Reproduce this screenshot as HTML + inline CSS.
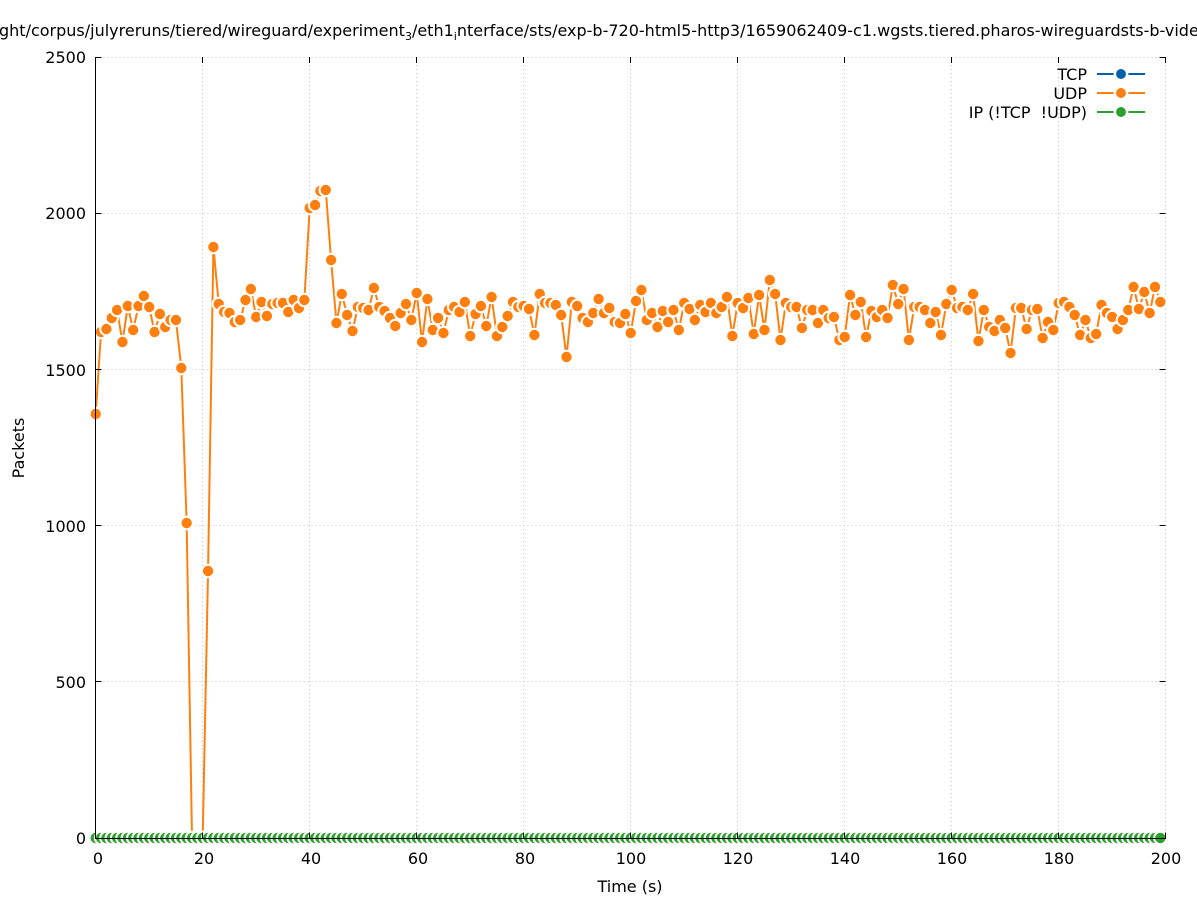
<!DOCTYPE html>
<html><head><meta charset="utf-8"><style>
html,body{margin:0;padding:0;background:#fff;}
svg{display:block;}
text{font-family:"DejaVu Sans","Liberation Sans",sans-serif;fill:#000;}
</style></head><body>
<svg width="1197" height="900" viewBox="0 0 1197 900" xmlns="http://www.w3.org/2000/svg">
<defs>
<circle id="o" cx="0" cy="0" r="6.2" fill="#ff7f0e" stroke="#fff" stroke-width="2"/>
<circle id="g" cx="0" cy="0" r="6.2" fill="#2ca02c" stroke="#fff" stroke-width="2"/>
</defs>
<rect width="1197" height="900" fill="#fff"/>
<!-- title -->
<text x="-1" y="36" font-size="16">ght/corpus/julyreruns/tiered/wireguard/experiment<tspan font-size="11" dy="4">3</tspan><tspan dy="-4">/eth1</tspan><tspan font-size="11" dy="4">i</tspan><tspan dy="-4">nterface/sts/exp-b-720-html5-http3/1659062409-c1.wgsts.tiered.pharos-wireguardsts-b-vide</tspan></text>
<!-- grid -->
<g stroke="#c8c8c8" stroke-width="1" stroke-dasharray="1,3" fill="none">
<path d="M95.5 681.5H1165.5M95.5 525.5H1165.5M95.5 369.5H1165.5M95.5 213.5H1165.5M95.5 57.5H1165.5"/>
<path d="M202.5 57V838M309.5 57V838M416.5 57V838M523.5 57V838M630.5 57V838M737.5 57V838M844.5 57V838M951.5 57V838M1058.5 57V838M1165.5 57V838"/>
</g>
<!-- UDP line -->
<polyline fill="none" stroke="#ff7f0e" stroke-width="2" stroke-linejoin="round" points="95.70,414 101.05,332 106.40,329 111.75,318 117.10,310 122.45,342 127.80,306 133.15,330 138.50,306 143.85,296 149.20,307 154.55,332 159.90,314 165.25,327 170.60,320 175.95,320 181.30,368 186.65,523 192.00,838 197.35,838 202.70,838 208.05,571 213.40,247 218.75,304 224.10,312 229.45,313 234.80,322 240.15,320 245.50,300 250.85,289 256.20,317 261.55,302 266.90,316 272.25,304 277.60,303 282.95,303 288.30,312 293.65,300 299.00,308 304.35,300 309.70,208 315.05,205 320.40,191 325.75,190 331.10,260 336.45,323 341.80,294 347.15,315 352.50,331 357.85,307 363.20,308 368.55,310 373.90,288 379.25,307 384.60,311 389.95,318 395.30,326 400.65,313 406.00,304 411.35,320 416.70,293 422.05,342 427.40,299 432.75,330 438.10,318 443.45,333 448.80,310 454.15,307 459.50,312 464.85,302 470.20,336 475.55,314 480.90,306 486.25,326 491.60,297 496.95,336 502.30,327 507.65,316 513.00,302 518.35,307 523.70,306 529.05,309 534.40,335 539.75,294 545.10,303 550.45,303 555.80,305 561.15,315 566.50,357 571.85,302 577.20,306 582.55,318 587.90,322 593.25,313 598.60,299 603.95,313 609.30,308 614.65,322 620.00,323 625.35,314 630.70,333 636.05,301 641.40,290 646.75,320 652.10,313 657.45,327 662.80,311 668.15,322 673.50,310 678.85,330 684.20,303 689.55,309 694.90,320 700.25,305 705.60,312 710.95,303 716.30,313 721.65,307 727.00,297 732.35,336 737.70,303 743.05,308 748.40,298 753.75,334 759.10,295 764.45,330 769.80,280 775.15,294 780.50,340 785.85,303 791.20,307 796.55,307 801.90,328 807.25,310 812.60,310 817.95,323 823.30,310 828.65,318 834.00,317 839.35,340 844.70,337 850.05,295 855.40,315 860.75,302 866.10,337 871.45,311 876.80,317 882.15,310 887.50,318 892.85,285 898.20,304 903.55,289 908.90,340 914.25,307 919.60,307 924.95,310 930.30,323 935.65,312 941.00,335 946.35,304 951.70,290 957.05,308 962.40,307 967.75,310 973.10,294 978.45,341 983.80,310 989.15,327 994.50,331 999.85,320 1005.20,328 1010.55,353 1015.90,308 1021.25,308 1026.60,329 1031.95,310 1037.30,309 1042.65,338 1048.00,322 1053.35,330 1058.70,303 1064.05,302 1069.40,307 1074.75,315 1080.10,335 1085.45,320 1090.80,338 1096.15,334 1101.50,305 1106.85,313 1112.20,317 1117.55,329 1122.90,320 1128.25,310 1133.60,287 1138.95,309 1144.30,292 1149.65,313 1155.00,287 1160.35,302"/>
<!-- UDP markers -->
<g>
<use href="#o" x="95.70" y="414"/><use href="#o" x="101.05" y="332"/><use href="#o" x="106.40" y="329"/><use href="#o" x="111.75" y="318"/><use href="#o" x="117.10" y="310"/><use href="#o" x="122.45" y="342"/><use href="#o" x="127.80" y="306"/><use href="#o" x="133.15" y="330"/><use href="#o" x="138.50" y="306"/><use href="#o" x="143.85" y="296"/>
<use href="#o" x="149.20" y="307"/><use href="#o" x="154.55" y="332"/><use href="#o" x="159.90" y="314"/><use href="#o" x="165.25" y="327"/><use href="#o" x="170.60" y="320"/><use href="#o" x="175.95" y="320"/><use href="#o" x="181.30" y="368"/><use href="#o" x="186.65" y="523"/><use href="#o" x="192.00" y="838"/><use href="#o" x="197.35" y="838"/>
<use href="#o" x="202.70" y="838"/><use href="#o" x="208.05" y="571"/><use href="#o" x="213.40" y="247"/><use href="#o" x="218.75" y="304"/><use href="#o" x="224.10" y="312"/><use href="#o" x="229.45" y="313"/><use href="#o" x="234.80" y="322"/><use href="#o" x="240.15" y="320"/><use href="#o" x="245.50" y="300"/><use href="#o" x="250.85" y="289"/>
<use href="#o" x="256.20" y="317"/><use href="#o" x="261.55" y="302"/><use href="#o" x="266.90" y="316"/><use href="#o" x="272.25" y="304"/><use href="#o" x="277.60" y="303"/><use href="#o" x="282.95" y="303"/><use href="#o" x="288.30" y="312"/><use href="#o" x="293.65" y="300"/><use href="#o" x="299.00" y="308"/><use href="#o" x="304.35" y="300"/>
<use href="#o" x="309.70" y="208"/><use href="#o" x="315.05" y="205"/><use href="#o" x="320.40" y="191"/><use href="#o" x="325.75" y="190"/><use href="#o" x="331.10" y="260"/><use href="#o" x="336.45" y="323"/><use href="#o" x="341.80" y="294"/><use href="#o" x="347.15" y="315"/><use href="#o" x="352.50" y="331"/><use href="#o" x="357.85" y="307"/>
<use href="#o" x="363.20" y="308"/><use href="#o" x="368.55" y="310"/><use href="#o" x="373.90" y="288"/><use href="#o" x="379.25" y="307"/><use href="#o" x="384.60" y="311"/><use href="#o" x="389.95" y="318"/><use href="#o" x="395.30" y="326"/><use href="#o" x="400.65" y="313"/><use href="#o" x="406.00" y="304"/><use href="#o" x="411.35" y="320"/>
<use href="#o" x="416.70" y="293"/><use href="#o" x="422.05" y="342"/><use href="#o" x="427.40" y="299"/><use href="#o" x="432.75" y="330"/><use href="#o" x="438.10" y="318"/><use href="#o" x="443.45" y="333"/><use href="#o" x="448.80" y="310"/><use href="#o" x="454.15" y="307"/><use href="#o" x="459.50" y="312"/><use href="#o" x="464.85" y="302"/>
<use href="#o" x="470.20" y="336"/><use href="#o" x="475.55" y="314"/><use href="#o" x="480.90" y="306"/><use href="#o" x="486.25" y="326"/><use href="#o" x="491.60" y="297"/><use href="#o" x="496.95" y="336"/><use href="#o" x="502.30" y="327"/><use href="#o" x="507.65" y="316"/><use href="#o" x="513.00" y="302"/><use href="#o" x="518.35" y="307"/>
<use href="#o" x="523.70" y="306"/><use href="#o" x="529.05" y="309"/><use href="#o" x="534.40" y="335"/><use href="#o" x="539.75" y="294"/><use href="#o" x="545.10" y="303"/><use href="#o" x="550.45" y="303"/><use href="#o" x="555.80" y="305"/><use href="#o" x="561.15" y="315"/><use href="#o" x="566.50" y="357"/><use href="#o" x="571.85" y="302"/>
<use href="#o" x="577.20" y="306"/><use href="#o" x="582.55" y="318"/><use href="#o" x="587.90" y="322"/><use href="#o" x="593.25" y="313"/><use href="#o" x="598.60" y="299"/><use href="#o" x="603.95" y="313"/><use href="#o" x="609.30" y="308"/><use href="#o" x="614.65" y="322"/><use href="#o" x="620.00" y="323"/><use href="#o" x="625.35" y="314"/>
<use href="#o" x="630.70" y="333"/><use href="#o" x="636.05" y="301"/><use href="#o" x="641.40" y="290"/><use href="#o" x="646.75" y="320"/><use href="#o" x="652.10" y="313"/><use href="#o" x="657.45" y="327"/><use href="#o" x="662.80" y="311"/><use href="#o" x="668.15" y="322"/><use href="#o" x="673.50" y="310"/><use href="#o" x="678.85" y="330"/>
<use href="#o" x="684.20" y="303"/><use href="#o" x="689.55" y="309"/><use href="#o" x="694.90" y="320"/><use href="#o" x="700.25" y="305"/><use href="#o" x="705.60" y="312"/><use href="#o" x="710.95" y="303"/><use href="#o" x="716.30" y="313"/><use href="#o" x="721.65" y="307"/><use href="#o" x="727.00" y="297"/><use href="#o" x="732.35" y="336"/>
<use href="#o" x="737.70" y="303"/><use href="#o" x="743.05" y="308"/><use href="#o" x="748.40" y="298"/><use href="#o" x="753.75" y="334"/><use href="#o" x="759.10" y="295"/><use href="#o" x="764.45" y="330"/><use href="#o" x="769.80" y="280"/><use href="#o" x="775.15" y="294"/><use href="#o" x="780.50" y="340"/><use href="#o" x="785.85" y="303"/>
<use href="#o" x="791.20" y="307"/><use href="#o" x="796.55" y="307"/><use href="#o" x="801.90" y="328"/><use href="#o" x="807.25" y="310"/><use href="#o" x="812.60" y="310"/><use href="#o" x="817.95" y="323"/><use href="#o" x="823.30" y="310"/><use href="#o" x="828.65" y="318"/><use href="#o" x="834.00" y="317"/><use href="#o" x="839.35" y="340"/>
<use href="#o" x="844.70" y="337"/><use href="#o" x="850.05" y="295"/><use href="#o" x="855.40" y="315"/><use href="#o" x="860.75" y="302"/><use href="#o" x="866.10" y="337"/><use href="#o" x="871.45" y="311"/><use href="#o" x="876.80" y="317"/><use href="#o" x="882.15" y="310"/><use href="#o" x="887.50" y="318"/><use href="#o" x="892.85" y="285"/>
<use href="#o" x="898.20" y="304"/><use href="#o" x="903.55" y="289"/><use href="#o" x="908.90" y="340"/><use href="#o" x="914.25" y="307"/><use href="#o" x="919.60" y="307"/><use href="#o" x="924.95" y="310"/><use href="#o" x="930.30" y="323"/><use href="#o" x="935.65" y="312"/><use href="#o" x="941.00" y="335"/><use href="#o" x="946.35" y="304"/>
<use href="#o" x="951.70" y="290"/><use href="#o" x="957.05" y="308"/><use href="#o" x="962.40" y="307"/><use href="#o" x="967.75" y="310"/><use href="#o" x="973.10" y="294"/><use href="#o" x="978.45" y="341"/><use href="#o" x="983.80" y="310"/><use href="#o" x="989.15" y="327"/><use href="#o" x="994.50" y="331"/><use href="#o" x="999.85" y="320"/>
<use href="#o" x="1005.20" y="328"/><use href="#o" x="1010.55" y="353"/><use href="#o" x="1015.90" y="308"/><use href="#o" x="1021.25" y="308"/><use href="#o" x="1026.60" y="329"/><use href="#o" x="1031.95" y="310"/><use href="#o" x="1037.30" y="309"/><use href="#o" x="1042.65" y="338"/><use href="#o" x="1048.00" y="322"/><use href="#o" x="1053.35" y="330"/>
<use href="#o" x="1058.70" y="303"/><use href="#o" x="1064.05" y="302"/><use href="#o" x="1069.40" y="307"/><use href="#o" x="1074.75" y="315"/><use href="#o" x="1080.10" y="335"/><use href="#o" x="1085.45" y="320"/><use href="#o" x="1090.80" y="338"/><use href="#o" x="1096.15" y="334"/><use href="#o" x="1101.50" y="305"/><use href="#o" x="1106.85" y="313"/>
<use href="#o" x="1112.20" y="317"/><use href="#o" x="1117.55" y="329"/><use href="#o" x="1122.90" y="320"/><use href="#o" x="1128.25" y="310"/><use href="#o" x="1133.60" y="287"/><use href="#o" x="1138.95" y="309"/><use href="#o" x="1144.30" y="292"/><use href="#o" x="1149.65" y="313"/><use href="#o" x="1155.00" y="287"/><use href="#o" x="1160.35" y="302"/>
</g>
<!-- IP line + markers at zero -->
<line x1="95.7" y1="838" x2="1160.35" y2="838" stroke="#2ca02c" stroke-width="2"/>
<g>
<use href="#g" x="95.70" y="838"/><use href="#g" x="101.05" y="838"/><use href="#g" x="106.40" y="838"/><use href="#g" x="111.75" y="838"/><use href="#g" x="117.10" y="838"/><use href="#g" x="122.45" y="838"/><use href="#g" x="127.80" y="838"/><use href="#g" x="133.15" y="838"/><use href="#g" x="138.50" y="838"/><use href="#g" x="143.85" y="838"/>
<use href="#g" x="149.20" y="838"/><use href="#g" x="154.55" y="838"/><use href="#g" x="159.90" y="838"/><use href="#g" x="165.25" y="838"/><use href="#g" x="170.60" y="838"/><use href="#g" x="175.95" y="838"/><use href="#g" x="181.30" y="838"/><use href="#g" x="186.65" y="838"/><use href="#g" x="192.00" y="838"/><use href="#g" x="197.35" y="838"/>
<use href="#g" x="202.70" y="838"/><use href="#g" x="208.05" y="838"/><use href="#g" x="213.40" y="838"/><use href="#g" x="218.75" y="838"/><use href="#g" x="224.10" y="838"/><use href="#g" x="229.45" y="838"/><use href="#g" x="234.80" y="838"/><use href="#g" x="240.15" y="838"/><use href="#g" x="245.50" y="838"/><use href="#g" x="250.85" y="838"/>
<use href="#g" x="256.20" y="838"/><use href="#g" x="261.55" y="838"/><use href="#g" x="266.90" y="838"/><use href="#g" x="272.25" y="838"/><use href="#g" x="277.60" y="838"/><use href="#g" x="282.95" y="838"/><use href="#g" x="288.30" y="838"/><use href="#g" x="293.65" y="838"/><use href="#g" x="299.00" y="838"/><use href="#g" x="304.35" y="838"/>
<use href="#g" x="309.70" y="838"/><use href="#g" x="315.05" y="838"/><use href="#g" x="320.40" y="838"/><use href="#g" x="325.75" y="838"/><use href="#g" x="331.10" y="838"/><use href="#g" x="336.45" y="838"/><use href="#g" x="341.80" y="838"/><use href="#g" x="347.15" y="838"/><use href="#g" x="352.50" y="838"/><use href="#g" x="357.85" y="838"/>
<use href="#g" x="363.20" y="838"/><use href="#g" x="368.55" y="838"/><use href="#g" x="373.90" y="838"/><use href="#g" x="379.25" y="838"/><use href="#g" x="384.60" y="838"/><use href="#g" x="389.95" y="838"/><use href="#g" x="395.30" y="838"/><use href="#g" x="400.65" y="838"/><use href="#g" x="406.00" y="838"/><use href="#g" x="411.35" y="838"/>
<use href="#g" x="416.70" y="838"/><use href="#g" x="422.05" y="838"/><use href="#g" x="427.40" y="838"/><use href="#g" x="432.75" y="838"/><use href="#g" x="438.10" y="838"/><use href="#g" x="443.45" y="838"/><use href="#g" x="448.80" y="838"/><use href="#g" x="454.15" y="838"/><use href="#g" x="459.50" y="838"/><use href="#g" x="464.85" y="838"/>
<use href="#g" x="470.20" y="838"/><use href="#g" x="475.55" y="838"/><use href="#g" x="480.90" y="838"/><use href="#g" x="486.25" y="838"/><use href="#g" x="491.60" y="838"/><use href="#g" x="496.95" y="838"/><use href="#g" x="502.30" y="838"/><use href="#g" x="507.65" y="838"/><use href="#g" x="513.00" y="838"/><use href="#g" x="518.35" y="838"/>
<use href="#g" x="523.70" y="838"/><use href="#g" x="529.05" y="838"/><use href="#g" x="534.40" y="838"/><use href="#g" x="539.75" y="838"/><use href="#g" x="545.10" y="838"/><use href="#g" x="550.45" y="838"/><use href="#g" x="555.80" y="838"/><use href="#g" x="561.15" y="838"/><use href="#g" x="566.50" y="838"/><use href="#g" x="571.85" y="838"/>
<use href="#g" x="577.20" y="838"/><use href="#g" x="582.55" y="838"/><use href="#g" x="587.90" y="838"/><use href="#g" x="593.25" y="838"/><use href="#g" x="598.60" y="838"/><use href="#g" x="603.95" y="838"/><use href="#g" x="609.30" y="838"/><use href="#g" x="614.65" y="838"/><use href="#g" x="620.00" y="838"/><use href="#g" x="625.35" y="838"/>
<use href="#g" x="630.70" y="838"/><use href="#g" x="636.05" y="838"/><use href="#g" x="641.40" y="838"/><use href="#g" x="646.75" y="838"/><use href="#g" x="652.10" y="838"/><use href="#g" x="657.45" y="838"/><use href="#g" x="662.80" y="838"/><use href="#g" x="668.15" y="838"/><use href="#g" x="673.50" y="838"/><use href="#g" x="678.85" y="838"/>
<use href="#g" x="684.20" y="838"/><use href="#g" x="689.55" y="838"/><use href="#g" x="694.90" y="838"/><use href="#g" x="700.25" y="838"/><use href="#g" x="705.60" y="838"/><use href="#g" x="710.95" y="838"/><use href="#g" x="716.30" y="838"/><use href="#g" x="721.65" y="838"/><use href="#g" x="727.00" y="838"/><use href="#g" x="732.35" y="838"/>
<use href="#g" x="737.70" y="838"/><use href="#g" x="743.05" y="838"/><use href="#g" x="748.40" y="838"/><use href="#g" x="753.75" y="838"/><use href="#g" x="759.10" y="838"/><use href="#g" x="764.45" y="838"/><use href="#g" x="769.80" y="838"/><use href="#g" x="775.15" y="838"/><use href="#g" x="780.50" y="838"/><use href="#g" x="785.85" y="838"/>
<use href="#g" x="791.20" y="838"/><use href="#g" x="796.55" y="838"/><use href="#g" x="801.90" y="838"/><use href="#g" x="807.25" y="838"/><use href="#g" x="812.60" y="838"/><use href="#g" x="817.95" y="838"/><use href="#g" x="823.30" y="838"/><use href="#g" x="828.65" y="838"/><use href="#g" x="834.00" y="838"/><use href="#g" x="839.35" y="838"/>
<use href="#g" x="844.70" y="838"/><use href="#g" x="850.05" y="838"/><use href="#g" x="855.40" y="838"/><use href="#g" x="860.75" y="838"/><use href="#g" x="866.10" y="838"/><use href="#g" x="871.45" y="838"/><use href="#g" x="876.80" y="838"/><use href="#g" x="882.15" y="838"/><use href="#g" x="887.50" y="838"/><use href="#g" x="892.85" y="838"/>
<use href="#g" x="898.20" y="838"/><use href="#g" x="903.55" y="838"/><use href="#g" x="908.90" y="838"/><use href="#g" x="914.25" y="838"/><use href="#g" x="919.60" y="838"/><use href="#g" x="924.95" y="838"/><use href="#g" x="930.30" y="838"/><use href="#g" x="935.65" y="838"/><use href="#g" x="941.00" y="838"/><use href="#g" x="946.35" y="838"/>
<use href="#g" x="951.70" y="838"/><use href="#g" x="957.05" y="838"/><use href="#g" x="962.40" y="838"/><use href="#g" x="967.75" y="838"/><use href="#g" x="973.10" y="838"/><use href="#g" x="978.45" y="838"/><use href="#g" x="983.80" y="838"/><use href="#g" x="989.15" y="838"/><use href="#g" x="994.50" y="838"/><use href="#g" x="999.85" y="838"/>
<use href="#g" x="1005.20" y="838"/><use href="#g" x="1010.55" y="838"/><use href="#g" x="1015.90" y="838"/><use href="#g" x="1021.25" y="838"/><use href="#g" x="1026.60" y="838"/><use href="#g" x="1031.95" y="838"/><use href="#g" x="1037.30" y="838"/><use href="#g" x="1042.65" y="838"/><use href="#g" x="1048.00" y="838"/><use href="#g" x="1053.35" y="838"/>
<use href="#g" x="1058.70" y="838"/><use href="#g" x="1064.05" y="838"/><use href="#g" x="1069.40" y="838"/><use href="#g" x="1074.75" y="838"/><use href="#g" x="1080.10" y="838"/><use href="#g" x="1085.45" y="838"/><use href="#g" x="1090.80" y="838"/><use href="#g" x="1096.15" y="838"/><use href="#g" x="1101.50" y="838"/><use href="#g" x="1106.85" y="838"/>
<use href="#g" x="1112.20" y="838"/><use href="#g" x="1117.55" y="838"/><use href="#g" x="1122.90" y="838"/><use href="#g" x="1128.25" y="838"/><use href="#g" x="1133.60" y="838"/><use href="#g" x="1138.95" y="838"/><use href="#g" x="1144.30" y="838"/><use href="#g" x="1149.65" y="838"/><use href="#g" x="1155.00" y="838"/><use href="#g" x="1160.35" y="838"/>
</g>
<!-- axes -->
<g stroke="#000" stroke-width="1" fill="none">
<path d="M95.5 57V838.5H1166"/>
<path d="M95.5 681.5h6M95.5 525.5h6M95.5 369.5h6M95.5 213.5h6M95.5 57.5h6"/>
<path d="M1165.5 838.5h-6M1165.5 681.5h-6M1165.5 525.5h-6M1165.5 369.5h-6M1165.5 213.5h-6M1165.5 57.5h-6"/>
<path d="M95.5 838.5v-6M202.5 838.5v-6M309.5 838.5v-6M416.5 838.5v-6M523.5 838.5v-6M630.5 838.5v-6M737.5 838.5v-6M844.5 838.5v-6M951.5 838.5v-6M1058.5 838.5v-6M1165.5 838.5v-6"/>
<path d="M202.5 57v6M309.5 57v6M416.5 57v6M523.5 57v6M630.5 57v6M737.5 57v6M844.5 57v6M951.5 57v6M1058.5 57v6M1165.5 57v6"/>
</g>
<!-- y labels -->
<g font-size="16" text-anchor="end">
<text x="86" y="844">0</text>
<text x="86" y="688">500</text>
<text x="86" y="532">1000</text>
<text x="86" y="376">1500</text>
<text x="86" y="219">2000</text>
<text x="86" y="63">2500</text>
</g>
<!-- x labels -->
<g font-size="16" text-anchor="middle">
<text x="98" y="864">0</text>
<text x="204" y="864">20</text>
<text x="311" y="864">40</text>
<text x="418" y="864">60</text>
<text x="525" y="864">80</text>
<text x="631" y="864">100</text>
<text x="738" y="864">120</text>
<text x="845" y="864">140</text>
<text x="952" y="864">160</text>
<text x="1059" y="864">180</text>
<text x="1166" y="864">200</text>
</g>
<text x="630" y="892" font-size="16" text-anchor="middle">Time (s)</text>
<text transform="translate(24,448) rotate(-90)" font-size="16" text-anchor="middle">Packets</text>
<!-- legend -->
<g font-size="16" text-anchor="end">
<text x="1087" y="80">TCP</text>
<text x="1087" y="99">UDP</text>
<text x="1087" y="118">IP (!TCP&#160; !UDP)</text>
</g>
<g stroke-width="2">
<line x1="1097" y1="74" x2="1145" y2="74" stroke="#0060ad"/>
<circle cx="1121" cy="74" r="6.2" fill="#0060ad" stroke="#fff" stroke-width="2.5"/>
<line x1="1097" y1="93" x2="1145" y2="93" stroke="#ff7f0e"/>
<circle cx="1121" cy="93" r="6.2" fill="#ff7f0e" stroke="#fff" stroke-width="2.5"/>
<line x1="1097" y1="112" x2="1145" y2="112" stroke="#2ca02c"/>
<circle cx="1121" cy="112" r="6.2" fill="#2ca02c" stroke="#fff" stroke-width="2.5"/>
</g>
</svg>
</body></html>
